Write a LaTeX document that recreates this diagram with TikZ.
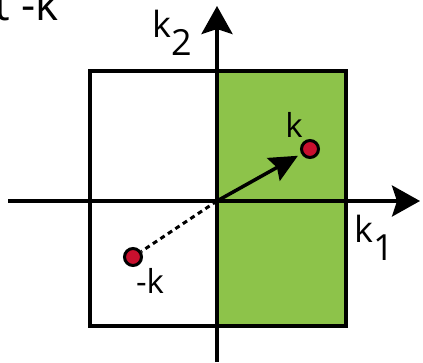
\documentclass[tikz,border=0pt]{standalone}
\usepackage{fontspec}
\setmainfont{Open Sans}
\usetikzlibrary{arrows.meta,calc}
\definecolor{kgreen}{RGB}{141,195,74}
\definecolor{kred}{RGB}{200,16,46}
\tikzset{
  axis/.style={line width=3.5pt,-{Stealth[length=28pt,width=31pt,inset=5pt]}},
  box/.style={line width=4pt},
  pt/.style={circle,draw=black,line width=3pt,fill=kred,minimum size=17pt,inner sep=0pt},
  lbl/.style={font=\fontsize{33}{33}\selectfont,inner sep=0pt},
  big/.style={font=\fontsize{36}{36}\selectfont,inner sep=0pt}
}
\begin{document}
\begin{tikzpicture}[x=1pt,y=-1pt]
\useasboundingbox (0,0) rectangle (423,362);
\fill[kgreen] (217,71) rectangle (346,326);
\draw[box] (90,71) rectangle (346,326);
\coordinate (o) at (217,201);
\coordinate (xs) at (8,201);
\coordinate (xe) at (420,201);
\coordinate (ys) at (217,362);
\coordinate (ye) at (217,6);
\draw[axis] (xs) -- (xe);
\draw[axis] (ys) -- (ye);
\node[pt] (kp) at (310,149) {};
\node[pt] (mk) at (133,257) {};
\coordinate (kt) at ($(o)!0.87!(kp)$);
\draw[line width=3.5pt,-{Stealth[length=28pt,width=26pt,inset=4pt]}] (o) -- (kt);
\draw[line width=3pt,dash pattern=on 5pt off 4pt] (o) -- (mk);
\node[lbl,anchor=base] (kl) at (294,137) {k};
\node[lbl,anchor=base] (mkl) at (150,293) {-k};
\node[big,anchor=base west] (k1) at (354,242) {k\raisebox{-18pt}{1}};
\node[big,anchor=base west] (k2) at (152,37) {k\raisebox{-18pt}{2}};
\node[font=\fontsize{44}{44}\selectfont,inner sep=0pt,anchor=base west] (top) at (-6,20) {t -k};
\end{tikzpicture}
\end{document}
